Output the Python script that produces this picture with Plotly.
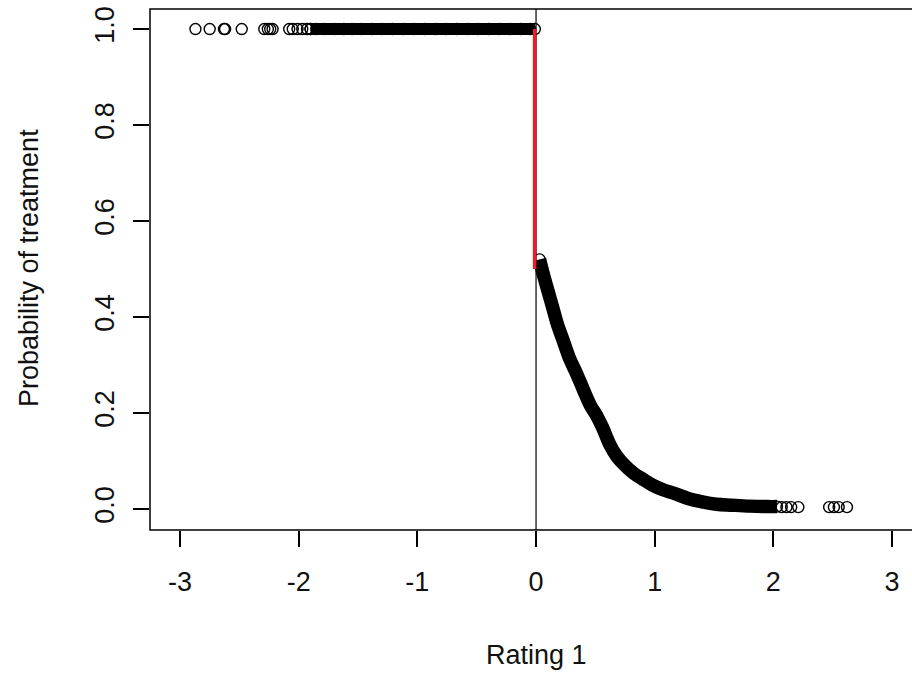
import plotly.graph_objects as go

# ---- data ----
# treated side (rating < 0): probability of treatment = 1
left_sparse_x = [-2.87, -2.75, -2.63, -2.62, -2.48, -2.29, -2.26, -2.24, -2.22,
                 -2.08, -2.05, -2.01, -1.97, -1.93, -1.90]
left_dense_x = [-1.90, -1.85, -1.78, -1.70, -1.62, -1.55, -1.47, -1.38, -1.30,
                -1.21, -1.12, -1.03, -0.94, -0.85, -0.76, -0.67, -0.58, -0.49,
                -0.40, -0.31, -0.22, -0.13, -0.05, -0.01]
left_prob = 1.0

# untreated side (rating > 0): decreasing probability
right_dense_x = [0.03, 0.06, 0.10, 0.14, 0.18, 0.23, 0.28, 0.34, 0.40, 0.46,
                 0.51, 0.56, 0.62, 0.68, 0.74, 0.82, 0.90, 0.98, 1.07, 1.17,
                 1.28, 1.40, 1.52, 1.65, 1.80, 1.95, 2.03]
right_dense_y = [0.52, 0.49, 0.455, 0.42, 0.385, 0.35, 0.315, 0.283, 0.248, 0.215,
                 0.195, 0.17, 0.135, 0.11, 0.093, 0.075, 0.062, 0.05, 0.04, 0.032,
                 0.022, 0.015, 0.010, 0.008, 0.006, 0.005, 0.005]
right_sparse_x = [2.07, 2.11, 2.15, 2.21, 2.47, 2.51, 2.55, 2.62]
right_sparse_y = [0.004, 0.004, 0.004, 0.004, 0.004, 0.004, 0.004, 0.004]

# red jump segment at the cutoff
jump_x = [-0.012, -0.012]
jump_y = [1.0, 0.5]

x_ticks = [-3, -2, -1, 0, 1, 2, 3]
y_ticks = [0.0, 0.2, 0.4, 0.6, 0.8, 1.0]
x_title = "Rating 1"
y_title = "Probability of treatment"

FONT = "Liberation Sans, Arial, sans-serif"
FS = 27
marker = dict(symbol="circle-open", size=11, color="black", line=dict(width=1.4, color="black"))

fig = go.Figure()
# dense clouds rendered as solid bands through the read points
fig.add_trace(go.Scatter(x=left_dense_x, y=[left_prob] * len(left_dense_x), mode="lines",
                         line=dict(color="black", width=12), hoverinfo="skip"))
fig.add_trace(go.Scatter(x=right_dense_x, y=right_dense_y, mode="lines",
                         line=dict(color="black", width=13.5, shape="spline"), hoverinfo="skip"))
# points
fig.add_trace(go.Scatter(x=left_sparse_x + left_dense_x,
                         y=[left_prob] * (len(left_sparse_x) + len(left_dense_x)),
                         mode="markers", marker=marker))
fig.add_trace(go.Scatter(x=right_dense_x + right_sparse_x, y=right_dense_y + right_sparse_y,
                         mode="markers", marker=marker))
# red jump
fig.add_trace(go.Scatter(x=jump_x, y=jump_y, mode="lines", line=dict(color="#ee1c24", width=3.5)))

fig.update_layout(
    width=912, height=678,
    margin=dict(l=150, r=0, t=9, b=148),
    paper_bgcolor="white", plot_bgcolor="white",
    showlegend=False,
    font=dict(family=FONT, color="black", size=FS),
    xaxis=dict(range=[-3.253, 3.168], tickvals=x_ticks, ticktext=[str(v) for v in x_ticks],
               showgrid=False, zeroline=False, ticks="outside", ticklen=16, tickwidth=1.5,
               tickcolor="black", ticklabelstandoff=12, tickfont=dict(size=FS, family=FONT, color="#111")),
    yaxis=dict(range=[-0.04375, 1.0417], tickvals=y_ticks, ticktext=[f"{v:.1f}" for v in y_ticks],
               showgrid=False, zeroline=False, ticks="outside", ticklen=16, tickwidth=1.5,
               tickcolor="black", tickangle=-90, ticklabelstandoff=8,
               tickfont=dict(size=FS, family=FONT, color="#111")),
    shapes=[
        dict(type="rect", xref="paper", yref="paper", x0=0, x1=1.05, y0=0, y1=1,
             line=dict(color="black", width=1.5), layer="above"),
        dict(type="line", xref="x", yref="paper", x0=0, x1=0, y0=0, y1=1,
             line=dict(color="black", width=1.2), layer="below"),
    ],
    annotations=[
        dict(text=x_title, xref="paper", yref="paper", x=(536 - 150) / 762, y=-(655 - 530) / 521,
             showarrow=False, xanchor="center", yanchor="middle", font=dict(size=FS, family=FONT, color="#111")),
        dict(text=y_title, xref="paper", yref="paper", x=-(150 - 29) / 762, y=(530 - 268) / 521,
             showarrow=False, xanchor="center", yanchor="middle", textangle=-90,
             font=dict(size=FS, family=FONT, color="#111")),
    ],
)

fig.write_html("out.html", config={"displayModeBar": False})
